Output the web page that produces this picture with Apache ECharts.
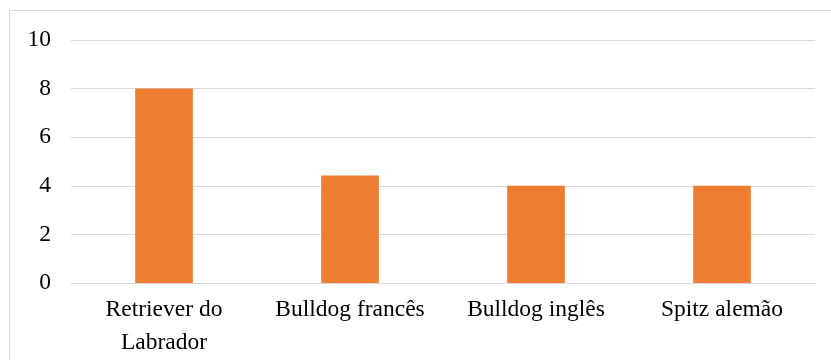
<!DOCTYPE html>
<html>
<head>
<meta charset="utf-8">
<script src="https://cdn.jsdelivr.net/npm/echarts@6/dist/echarts.min.js"></script>
<style>
html,body{margin:0;padding:0;background:#fff;}
#main{width:831px;height:360px;}
</style>
</head>
<body>
<div id="main"></div>
<script>
var categories = ['Retriever do\nLabrador', 'Bulldog francês', 'Bulldog inglês', 'Spitz alemão'];
var values = [8, 4.42, 4, 4];
var yTicks = [0, 2, 4, 6, 8, 10];

var chart = echarts.init(document.getElementById('main'));
var font = '"Liberation Serif", "Times New Roman", serif';

var option = {
    animation: false,
    textStyle: { fontFamily: font },
    graphic: [{
        type: 'rect',
        shape: { x: 9.5, y: 10.5, width: 830, height: 360 },
        style: { fill: 'none', stroke: '#d9d9d9', lineWidth: 1 },
        silent: true
    }],
    grid: { left: 71, right: 16, top: 40, bottom: 77 },
    xAxis: {
        type: 'category',
        data: categories,
        axisTick: { show: false },
        axisLine: { lineStyle: { color: '#d9d9d9', width: 1 } },
        axisLabel: { color: '#000', fontSize: 23.5, fontFamily: font, margin: 10, lineHeight: 33, interval: 0 }
    },
    yAxis: {
        type: 'value',
        min: yTicks[0],
        max: yTicks[yTicks.length - 1],
        interval: 2,
        axisLine: { show: false },
        axisTick: { show: false },
        axisLabel: { color: '#000', fontSize: 23.5, fontFamily: font, margin: 20 },
        splitLine: { lineStyle: { color: '#d9d9d9', width: 1 } }
    },
    series: [{
        type: 'bar',
        data: values,
        barWidth: '31%',
        itemStyle: { color: '#ED7D31' }
    }]
};
chart.setOption(option);
</script>
</body>
</html>
